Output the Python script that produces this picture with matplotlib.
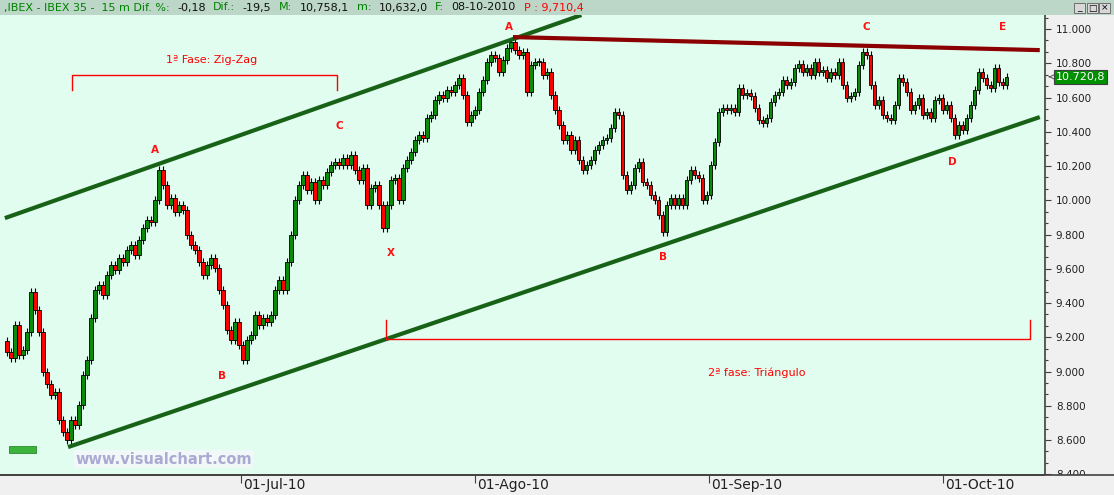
import numpy as np
import matplotlib
matplotlib.use("Agg")
import matplotlib.pyplot as plt
from matplotlib.patches import Rectangle
from matplotlib.lines import Line2D
from matplotlib.ticker import MultipleLocator, FuncFormatter
import matplotlib.transforms as mtransforms

# ---------------- data ----------------
# 15-min closes of IBEX 35, 01-Jun-2010 .. 08-Oct-2010
closes = [
    9114, 9079, 9271, 9096, 9125, 9230, 9464, 9359, 9230, 8997,
    8927, 8863, 8880, 8717, 8647, 8600, 8717, 8687, 8804, 8979,
    9067, 9312, 9476, 9505, 9447, 9563, 9622, 9592, 9662, 9639,
    9709, 9738, 9680, 9768, 9838, 9884, 9873, 10001, 10177, 10089,
    9972, 10013, 9931, 9972, 9943, 9797, 9738, 9709, 9639, 9563,
    9622, 9662, 9604, 9476, 9388, 9242, 9184, 9289, 9155, 9067,
    9184, 9213, 9330, 9271, 9312, 9289, 9330, 9476, 9534, 9476,
    9639, 9797, 10001, 10089, 10147, 10060, 10106, 10001, 10118, 10089,
    10165, 10206, 10223, 10206, 10247, 10206, 10264, 10177, 10118, 10188,
    9972, 10071, 10089, 9972, 9838, 9972, 10118, 10130, 10001, 10188,
    10235, 10282, 10352, 10381, 10363, 10480, 10498, 10585, 10615, 10597,
    10644, 10632, 10673, 10714, 10615, 10457, 10498, 10527, 10632, 10702,
    10807, 10848, 10831, 10749, 10819, 10889, 10924, 10877, 10848, 10866,
    10632, 10790, 10807, 10807, 10731, 10749, 10615, 10527, 10439, 10352,
    10381, 10293, 10352, 10235, 10177, 10206, 10235, 10293, 10322, 10352,
    10363, 10422, 10515, 10498, 10147, 10060, 10089, 10188, 10223, 10106,
    10089, 10030, 10001, 9914, 9814, 9972, 10013, 9972, 10013, 9972,
    10118, 10177, 10147, 10130, 10001, 10030, 10206, 10340, 10515, 10539,
    10527, 10539, 10515, 10655, 10615, 10626, 10609, 10539, 10469, 10451,
    10480, 10574, 10615, 10632, 10702, 10673, 10691, 10772, 10796, 10749,
    10772, 10731, 10807, 10749, 10761, 10714, 10749, 10731, 10807, 10673,
    10597, 10609, 10632, 10790, 10866, 10848, 10673, 10556, 10585, 10498,
    10480, 10469, 10556, 10714, 10691, 10632, 10527, 10556, 10597, 10498,
    10515, 10480, 10585, 10597, 10527, 10556, 10480, 10381, 10439, 10410,
    10480, 10556, 10644, 10749, 10714, 10673, 10655, 10772, 10691, 10673,
    10720.8,
]
first_open = 9180
day_span = (0, 94)          # trading-day index: 01-Jun-10 -> 08-Oct-10
last_price_label = "10.720,8"

month_ticks = [22, 44, 66, 88]
month_labels = ["01-Jul-10", "01-Ago-10", "01-Sep-10", "01-Oct-10"]

upper_channel_days = [-0.2, 54.0]
upper_channel_prices = [9896, 11082]
lower_channel_days = [5.74, 97.1]
lower_channel_prices = [8559, 10486]
resist_days = [47.57, 97.1]
resist_prices = [10953, 10877]

wave_labels = ["A", "B", "C", "X", "A", "B", "C", "D", "E"]
wave_days = [13.9, 20.2, 31.2, 36.1, 47.2, 61.7, 80.8, 88.9, 93.6]
wave_prices = [10293, 8974, 10434, 9692, 11012, 9669, 11012, 10223, 11012]

phase1_text = "1ª Fase: Zig-Zag"
phase1_days = [6.11, 31.03]
phase1_prices = [10731, 10644]      # bar level, tick end
phase1_text_pos = (19.27, 10819)
phase2_text = "2ª fase: Triángulo"
phase2_days = [35.63, 96.18]
phase2_prices = [9190, 9301]
phase2_text_pos = (70.5, 8991)

header_pieces = [
    (",IBEX - IBEX 35 -  15 m Dif. %:", "g"), ("-0,18", "k"),
    ("Dif.:", "g"), ("-19,5", "k"), ("M:", "g"), ("10,758,1", "k"),
    ("m:", "g"), ("10,632,0", "k"), ("F:", "g"), ("08-10-2010", "k"),
    ("P : 9,710,4", "r"),
]

# ---------------- style ----------------
W, H = 1114, 495
BG = "#e1fdf0"
PANEL = "#f0f0f0"
HEADER = "#bcd6c7"
GREEN_C = "#0b8a0b"
RED_C = "#ff0000"
WICK = 22

fig = plt.figure(figsize=(W / 100, H / 100), dpi=100)
fig.patch.set_facecolor(PANEL)

ax = fig.add_axes([0, 20 / H, 1045 / W, 460 / H])
ax.set_facecolor(BG)
ax.set_xlim(-0.66, 97.59)
ax.set_ylim(8396, 11082)

# candles
x = np.linspace(day_span[0], day_span[1], len(closes))
c = np.array(closes, dtype=float)
o = np.concatenate([[first_open], c[:-1]])
hi = np.maximum(o, c) + WICK
lo = np.minimum(o, c) - WICK
up = c >= o
ax.vlines(x, lo, hi, color="black", lw=0.8, zorder=2)
body_bottom = np.minimum(o, c)
body_h = np.maximum(np.abs(c - o), 7)
ax.bar(x, body_h, width=0.3, bottom=body_bottom,
       color=np.where(up, GREEN_C, RED_C), edgecolor="black",
       linewidth=0.6, zorder=3)

# trend lines
ax.plot(upper_channel_days, upper_channel_prices, color="#176217", lw=3.0,
        solid_capstyle="butt", zorder=4)
ax.plot(lower_channel_days, lower_channel_prices, color="#176217", lw=3.0,
        solid_capstyle="butt", zorder=4)
ax.plot(resist_days, resist_prices, color="#8b0000", lw=3.0,
        solid_capstyle="butt", zorder=4)

# wave labels
for lab, d, p in zip(wave_labels, wave_days, wave_prices):
    ax.text(d, p, lab, color="#ff1010", fontsize=7.5, fontweight="bold",
            ha="center", va="center", zorder=5)

# phase brackets
ax.plot([phase1_days[0], phase1_days[0], phase1_days[1], phase1_days[1]],
        [phase1_prices[1], phase1_prices[0], phase1_prices[0], phase1_prices[1]],
        color="#ff0000", lw=1.0, zorder=5)
ax.text(*phase1_text_pos, phase1_text, color="#ff0000", fontsize=8,
        ha="center", va="center", zorder=5)
ax.plot([phase2_days[0], phase2_days[0], phase2_days[1], phase2_days[1]],
        [phase2_prices[1], phase2_prices[0], phase2_prices[0], phase2_prices[1]],
        color="#ff0000", lw=1.0, zorder=5)
ax.text(*phase2_text_pos, phase2_text, color="#ff0000", fontsize=8,
        ha="center", va="center", zorder=5)

# spines and ticks
for s in ("left", "top"):
    ax.spines[s].set_visible(False)
for s in ("right", "bottom"):
    ax.spines[s].set_color("#404040")
    ax.spines[s].set_linewidth(1.2)

ax.yaxis.tick_right()
ax.yaxis.set_major_locator(MultipleLocator(200))
ax.yaxis.set_minor_locator(MultipleLocator(200 / 3))
ax.yaxis.set_major_formatter(FuncFormatter(lambda v, p: f"{v / 1000:.3f}"))
ax.tick_params(axis="y", which="major", direction="out", length=4.3,
               width=0.8, color="#404040", labelsize=7.5, pad=3.5,
               labelcolor="#202020")
ax.tick_params(axis="y", which="minor", direction="out", length=1.8,
               width=0.8, color="#404040")

ax.set_xticks(month_ticks)
ax.set_xticklabels([])
ax.tick_params(axis="x", which="major", direction="out", length=5.5,
               width=0.8, color="#404040")
blend = mtransforms.blended_transform_factory(ax.transData, ax.transAxes)
off = mtransforms.ScaledTranslation(2 / 100, 0, fig.dpi_scale_trans)
for d, lab in zip(month_ticks, month_labels):
    ax.text(d, -0.006, lab, transform=blend + off, ha="left", va="top",
            fontsize=10, color="#202020")

# last price box
blend_y = mtransforms.blended_transform_factory(ax.transAxes, ax.transData)
ax.text(1 + 11 / 1045, float(closes[-1]), last_price_label, transform=blend_y,
        ha="left", va="center", fontsize=8, color="white", zorder=6,
        bbox=dict(boxstyle="square,pad=0.15", facecolor="#009000",
                  edgecolor="#404040", linewidth=0.8), clip_on=False)
ax.annotate("", xy=(1 + 1 / 1045, float(closes[-1])),
            xytext=(1 + 7 / 1045, float(closes[-1])),
            xycoords=blend_y, textcoords=blend_y,
            arrowprops=dict(arrowstyle="->", color="#505050", lw=0.7),
            annotation_clip=False)

# watermark
ax.text(75 / 1045, (475 - 459) / 460, "www.visualchart.com", transform=ax.transAxes,
        ha="left", va="center", fontsize=10.5, fontweight="bold",
        color="#aaaad2", zorder=6,
        bbox=dict(boxstyle="square,pad=0.1", facecolor="#f0f8f8", edgecolor="none"))
# small green tag
fig.patches.append(Rectangle((9 / W, (H - 453) / H), 27 / W, 7 / H,
                             transform=fig.transFigure, facecolor="#3cb43c",
                             edgecolor="#2a8a2a", linewidth=0.6, zorder=5))

# cover lower right corner (clip 8.400 label) and bottom separator
fig.patches.append(Rectangle((1045 / W, 0), 69 / W, 20 / H, transform=fig.transFigure,
                             facecolor=PANEL, edgecolor="none", zorder=8))
fig.lines.append(Line2D([0, 1], [20 / H, 20 / H], transform=fig.transFigure,
                        color="#404040", lw=1.2, zorder=9))

# header bar
fig.patches.append(Rectangle((0, (H - 15) / H), 1, 15 / H, transform=fig.transFigure,
                             facecolor=HEADER, edgecolor="none", zorder=8))
cols = {"g": "#008000", "k": "#101010", "r": "#ff0000"}
renderer = fig.canvas.get_renderer()
xpix = 4
for txt, col in header_pieces:
    t = fig.text(xpix / W, 1 - 7.5 / H, txt, color=cols[col], fontsize=8,
                 ha="left", va="center", zorder=9)
    xpix += t.get_window_extent(renderer).width + 7.5

# window buttons
for i, sym in enumerate(["_", "□", "×"]):
    bx = 1074 + i * 12.5
    fig.patches.append(Rectangle((bx / W, (H - 13) / H), 11 / W, 10 / H,
                                 transform=fig.transFigure, facecolor="#d8d8d8",
                                 edgecolor="#606060", linewidth=0.6, zorder=9))
    fig.text((bx + 5.5) / W, 1 - 8 / H, sym, fontsize=6.5, ha="center",
             va="center", color="black", zorder=10)

fig.savefig("out.png", dpi=100, facecolor=fig.get_facecolor())
